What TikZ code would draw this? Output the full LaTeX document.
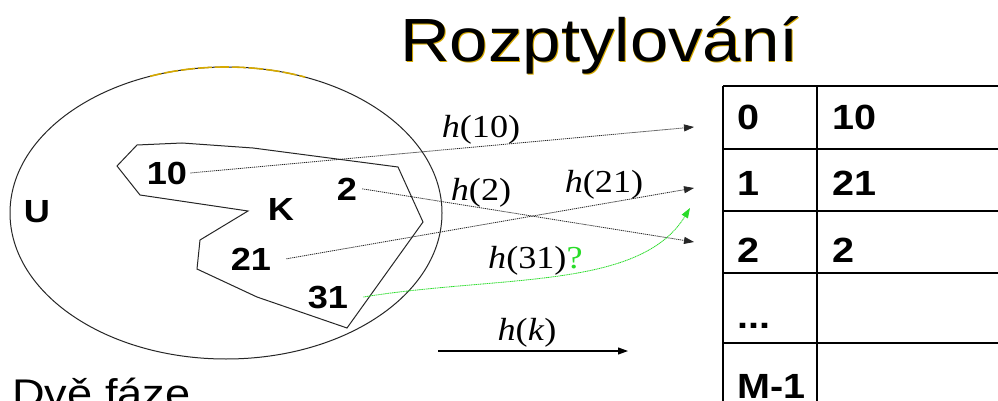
\documentclass[tikz,border=0pt]{standalone}
\usepackage{fontspec}
\setmainfont{Liberation Serif}
\setsansfont{Liberation Sans}
\usepackage{graphicx}
\usetikzlibrary{arrows.meta}
\definecolor{gold}{RGB}{215,170,0}
\definecolor{brightgreen}{RGB}{40,220,40}
\newcommand{\sx}[1]{\scalebox{1.13}[1]{#1}}
\tikzset{
  setlabel/.style={font=\sffamily\bfseries\fontsize{32}{32}\selectfont, inner sep=0pt, anchor=base},
  funlabel/.style={font=\rmfamily\fontsize{32}{32}\selectfont, inner sep=0pt, anchor=base},
  celltext/.style={font=\sffamily\bfseries\fontsize{35}{35}\selectfont, inner sep=0pt, anchor=base west},
  hasharrow/.style={draw=black!85, line width=0.8pt, dash pattern=on 1.2pt off 0.8pt, -{Triangle[length=10pt,width=7pt]}},
  greenarrow/.style={draw=brightgreen, line width=0.8pt, dash pattern=on 1.2pt off 0.6pt, -{Triangle[length=10pt,width=7pt]}},
  solidarrow/.style={draw=black, line width=1.1pt, -{Triangle[length=10pt,width=7pt]}},
  outline/.style={draw=black!85, line width=1pt},
  tableline/.style={draw=black, line width=1.1pt}
}
\begin{document}
\begin{tikzpicture}[x=1pt,y=-1pt]
\useasboundingbox (0,0) rectangle (998,401);
\clip (0,0) rectangle (998,401);
\fill[white] (0,0) rectangle (998,401);

% title
\node[font=\sffamily\fontsize{61}{61}\selectfont, inner sep=0pt, anchor=base west, text=gold] (titleshadow) at (400.8,62.6) {\sx{Rozptylování}};
\node[font=\sffamily\fontsize{61}{61}\selectfont, inner sep=0pt, anchor=base west] (title) at (400,62) {\sx{Rozptylování}};

% universe ellipse
\draw[outline] (226,213) ellipse [x radius=216, y radius=146];
\begin{scope}
  \clip (150,55) rectangle (305,80);
  \draw[draw=gold, line width=1.6pt, dash pattern=on 14pt off 3pt] (226,213) ellipse [x radius=216, y radius=146];
\end{scope}

% set K polygon
\draw[outline, line join=miter] (137,145) -- (182,143) -- (253,148) -- (398,167) -- (423,222) -- (347,328) -- (257,297) -- (197,269) -- (200,240) -- (248,211) -- (140,195) -- (117,166) -- cycle;

% labels inside
\node[setlabel] (U) at (37,222) {\sx{U}};
\node[setlabel] (K) at (281,220) {\sx{K}};
\node[setlabel] (n10) at (167,184) {\sx{10}};
\node[setlabel] (n2) at (347,200) {\sx{2}};
\node[setlabel] (n21) at (251,270) {\sx{21}};
\node[setlabel] (n31) at (328,308) {\sx{31}};

% arrow targets
\coordinate (t0) at (694,127);
\coordinate (t1) at (694,188);
\coordinate (t2) at (694,242);
\coordinate (tg) at (690,208);

% hash arrows
\draw[hasharrow] ([xshift=3pt]n10.east) -- (t0);
\draw[hasharrow] ([xshift=5pt]n2.east) -- (t2);
\draw[hasharrow] ([xshift=15pt]n21.east) -- (t1);
\draw[greenarrow] ([xshift=15pt]n31.east) .. controls (500,275) and (640,290) .. (tg);

% function labels
\node[funlabel] (h10) at (481,137) {\sx{\textit{h}(10)}};
\node[funlabel] (h2) at (481,200) {\sx{\textit{h}(2)}};
\node[funlabel] (h21) at (604,192) {\sx{\textit{h}(21)}};
\node[funlabel, anchor=base west] (h31) at (488,268) {\sx{\textit{h}(31)\textcolor{brightgreen}{?}}};

% h(k) arrow
\coordinate (hk0) at (438,351);
\coordinate (hk1) at (628,351);
\draw[solidarrow] (hk0) -- (hk1);
\node[funlabel] (hk) at (527,340) {\sx{\textit{h}(\textit{k})}};

% table
\draw[tableline] (723,86) -- (723,405);
\draw[tableline] (817,86) -- (817,405);
\foreach \yy in {86,149,211,273,343} {
  \draw[tableline] (723,\yy) -- (1000,\yy);
}
\node[celltext] (i0) at (737,130) {\sx{0}};
\node[celltext] (v0) at (832,130) {\sx{10}};
\node[celltext] (i1) at (737,195) {\sx{1}};
\node[celltext] (v1) at (832,195) {\sx{21}};
\node[celltext] (i2) at (737,262) {\sx{2}};
\node[celltext] (v2) at (832,262) {\sx{2}};
\node[celltext] (idots) at (737,328) {\sx{...}};
\node[celltext] (iM) at (737,398) {\sx{M-1}};

% bottom text
\node[font=\sffamily\fontsize{40}{40}\selectfont, inner sep=0pt, anchor=base west] (phases) at (12,407) {\sx{Dvě fáze}};
\end{tikzpicture}
\end{document}
